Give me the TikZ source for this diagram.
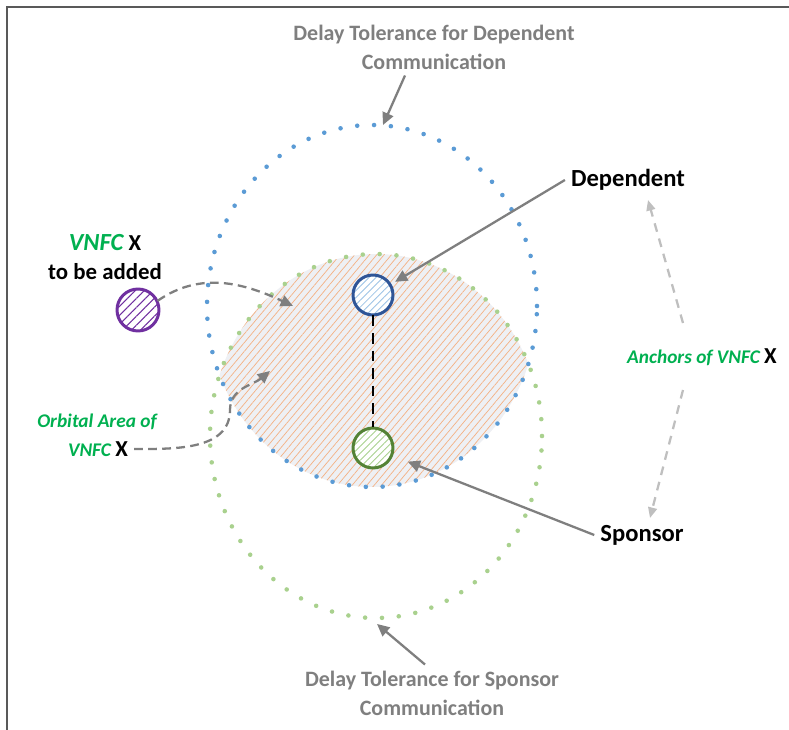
\documentclass[tikz,border=0pt]{standalone}
\usepackage{fontspec}
\setmainfont{Carlito}
\usepackage{xcolor}
\usepackage{tikz}
\usetikzlibrary{arrows.meta,positioning,patterns.meta}

\definecolor{framegray}{HTML}{595959}
\definecolor{arrgray}{HTML}{7F7F7F}
\definecolor{lightarr}{HTML}{BFBFBF}
\definecolor{vgreen}{HTML}{00B050}
\definecolor{bluedot}{HTML}{5B9BD5}
\definecolor{greendot}{HTML}{A9D18E}
\definecolor{orangeln}{HTML}{F4B183}
\definecolor{areafill}{HTML}{EEF0F4}
\definecolor{depblue}{HTML}{2F5597}
\definecolor{dephatch}{HTML}{9DC3E6}
\definecolor{spogreen}{HTML}{548235}
\definecolor{spohatch}{HTML}{A9D18E}
\definecolor{newpurple}{HTML}{7030A0}

\begin{document}
\begin{tikzpicture}[x=0.02cm,y=0.02cm,
  lbl/.style={font=\bfseries\fontsize{12.5}{16.5}\selectfont,text=arrgray,align=center},
  bigtxt/.style={font=\bfseries\fontsize{14}{17}\selectfont},
  smalltxt/.style={font=\bfseries\itshape\fontsize{11}{14}\selectfont,text=vgreen},
  dotring/.style={line width=2.6pt,line cap=round,dash pattern=on 0pt off 9.6pt},
  ringnode/.style={circle,minimum size=0.8cm,inner sep=0pt,line width=1.7pt,preaction={fill=white}},
  arr/.style={-{Triangle[length=7pt,width=6.5pt]},line width=1.3pt,arrgray},
  dasharr/.style={-{Triangle[length=7pt,width=6.5pt]},line width=1.3pt,arrgray,dash pattern=on 5pt off 3pt},
  lgarr/.style={-{Triangle[length=6pt,width=5pt]},line width=1.3pt,lightarr,dash pattern=on 5pt off 4pt}]
\useasboundingbox (0,0) rectangle (789,-730);
\draw[framegray,line width=1.2pt] (7,-730) -- (7,-7) -- (789,-7);

% overlap of the two orbits
\begin{scope}
\clip (372,-306) ellipse [x radius=165,y radius=181];
\path[fill=areafill,postaction={pattern={Lines[angle=50,distance=3.2pt,line width=0.4pt]},pattern color=orangeln}]
  (376,-436) ellipse [x radius=166,y radius=182];
\end{scope}

% orbits
\draw[dotring,bluedot] (372,-306) ellipse [x radius=165,y radius=181];
\draw[dotring,greendot] (376,-436) ellipse [x radius=166,y radius=182];

% VNFCs
\node[ringnode,draw=depblue,pattern={Lines[angle=45,distance=2.8pt,line width=0.5pt]},pattern color=dephatch] (depc) at (373,-295) {};
\node[ringnode,draw=spogreen,pattern={Lines[angle=45,distance=2.8pt,line width=0.5pt]},pattern color=spohatch] (spoc) at (373,-448) {};
\node[ringnode,minimum size=0.84cm,draw=newpurple,pattern={Lines[angle=45,distance=3.6pt,line width=0.6pt]},pattern color=newpurple] (newc) at (138,-310) {};
\draw[black,line width=1.4pt,dash pattern=on 6pt off 4pt] (depc) -- (spoc);

% labels
\node[lbl] (toptxt) at (434,-47) {Delay Tolerance for Dependent\\Communication};
\node[lbl] (bottxt) at (432,-693) {Delay Tolerance for Sponsor\\Communication};
\node[bigtxt] (deptxt) at (628,-180) {Dependent};
\node[bigtxt] (spotxt) at (642,-535) {Sponsor};
\node[bigtxt,font=\bfseries\fontsize{13}{17}\selectfont,align=center] (newtxt) at (105,-257)
  {{\color{vgreen}\itshape\fontsize{14}{17}\selectfont VNFC} X\\to be added};
\node[smalltxt] (orbtxt1) at (97,-422) {Orbital Area of};
\node[smalltxt] (orbtxt2) at (98,-449) {VNFC {\upshape\color{black}\fontsize{13}{14}\selectfont X}};
\node[smalltxt] (anctxt) at (702,-357) {Anchors of VNFC {\upshape\color{black}\fontsize{13}{14}\selectfont X}};

% connector ends
\coordinate (bluetop) at (383,-125);
\coordinate (greenbot) at (377,-624);
\coordinate (areain1) at (293,-306);
\coordinate (areain2) at (270,-371);
\coordinate (ancfrom1) at (683,-323);
\coordinate (ancup) at (648,-200);
\coordinate (ancfrom2) at (683,-390);
\coordinate (ancdown) at (650,-518);

% arrows
\draw[arr] ([xshift=-0.58cm]toptxt.south) -- (bluetop);
\draw[arr] ([xshift=-0.14cm]bottxt.north) -- (greenbot);
\draw[arr,shorten >=3pt] (deptxt.west) -- (depc);
\draw[arr,shorten >=9pt] (spotxt.west) -- (spoc);
\draw[dasharr] (newc.25) to[out=35,in=155] (areain1);
\draw[dasharr] (orbtxt2.east) to[out=0,in=-90] (230,-410) to[out=90,in=-140] (areain2);
\draw[lgarr] (ancfrom1) -- (ancup);
\draw[lgarr] (ancfrom2) -- (ancdown);
\end{tikzpicture}
\end{document}
